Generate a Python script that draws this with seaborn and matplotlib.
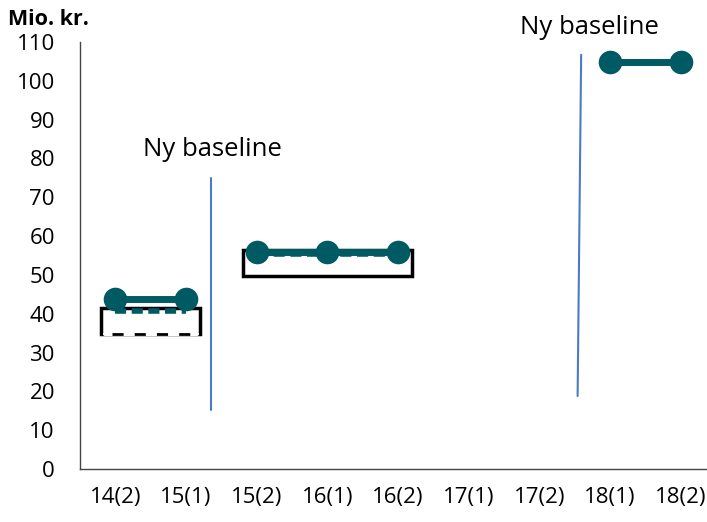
import numpy as np
import pandas as pd
import matplotlib
matplotlib.use("Agg")
import matplotlib.pyplot as plt
import seaborn as sns
from matplotlib.patches import FancyBboxPatch

categories = ["14(2)", "15(1)", "15(2)", "16(1)", "16(2)", "17(1)", "17(2)", "18(1)", "18(2)"]
ny_vaerdi = [43.8, 43.8, 55.9, 55.9, 55.9, np.nan, np.nan, 104.9, 104.9]
gammel_vaerdi = [40.6, 40.6, 55.4, 55.4, 55.4, np.nan, np.nan, np.nan, np.nan]
gruppe = ["a", "a", "b", "b", "b", None, None, "c", "c"]
baseline_text = "Ny baseline"

df = pd.DataFrame({"pos": range(len(categories)), "kategori": categories,
                   "ny": ny_vaerdi, "gammel": gammel_vaerdi, "gruppe": gruppe})

sns.set_style("white")
plt.rcParams["font.family"] = ["Open Sans", "DejaVu Sans"]
plt.rcParams["text.color"] = "black"
plt.rcParams["xtick.color"] = "black"
plt.rcParams["ytick.color"] = "black"

fig = plt.figure(figsize=(7.07, 5.22), dpi=100)
ax = fig.add_axes([0.113, 0.1015, 0.90, 0.818])

teal = "#005a63"

# shadow boxes under the first two groups
for g, (y0, y1) in {"a": (34.8, 41.5), "b": (49.7, 56.4)}.items():
    sub = df[df["gruppe"] == g]
    x0 = sub["pos"].min() - 0.2
    x1 = sub["pos"].max() + 0.2
    box = FancyBboxPatch((x0, y0), x1 - x0, y1 - y0, boxstyle="square,pad=0",
                         facecolor="white", edgecolor="black", linewidth=2.5, zorder=2)
    ax.add_patch(box)
    if g == "a":
        ax.plot([x0 + 0.05, x1 - 0.05], [y0, y0], color="white", lw=3, zorder=3)
        ax.plot([x0 + 0.15, x1 - 0.05], [y0, y0], color="black", lw=2, ls=(0, (4, 4)), zorder=3)

# old values (dashed)
for g in ["a", "b"]:
    sub = df[df["gruppe"] == g]
    sns.lineplot(data=sub, x="pos", y="gammel", color=teal, lw=4, ax=ax,
                 linestyle=(0, (2, 1)), zorder=4)

# new values
for g in ["a", "b", "c"]:
    sub = df[df["gruppe"] == g]
    sns.lineplot(data=sub, x="pos", y="ny", color=teal, lw=5, ax=ax, marker="o",
                 markersize=17, markeredgewidth=0, zorder=5)

# baseline markers
ax.plot([1.36, 1.36], [15.2, 75], color="#4a7cc4", lw=1.5, zorder=3)
ax.plot([6.59, 6.54], [106.7, 18.8], color="#4a7cc4", lw=1.5, zorder=3)
ax.text(1.37, 82.2, baseline_text, fontsize=18.5, ha="center", va="center")
ax.text(6.71, 113.7, baseline_text, fontsize=18.5, ha="center", va="center", clip_on=False)

ax.set_xlim(-0.5, 8.5)
ax.set_ylim(0, 110)
ax.set_yticks(range(0, 111, 10))
ax.set_xticks(range(len(categories)))
ax.set_xticklabels(categories)
ax.set_xticks(np.arange(-0.5, 8.5, 1), minor=True)
ax.tick_params(axis="x", which="major", length=0, pad=13, labelsize=16)
ax.tick_params(axis="x", which="minor", length=8, width=1, color="#444444", direction="out")
ax.tick_params(axis="y", length=6, width=1, color="#444444", direction="out", labelsize=16, pad=12)
ax.set_xlabel("")
ax.set_ylabel("")

for side in ["top", "right"]:
    ax.spines[side].set_visible(False)
for side in ["left", "bottom"]:
    ax.spines[side].set_color("#444444")
    ax.spines[side].set_linewidth(1)

fig.text(0.012, 0.962, "Mio. kr.", fontsize=15.5, fontweight="bold", va="center")

fig.savefig("out.png", dpi=100)
